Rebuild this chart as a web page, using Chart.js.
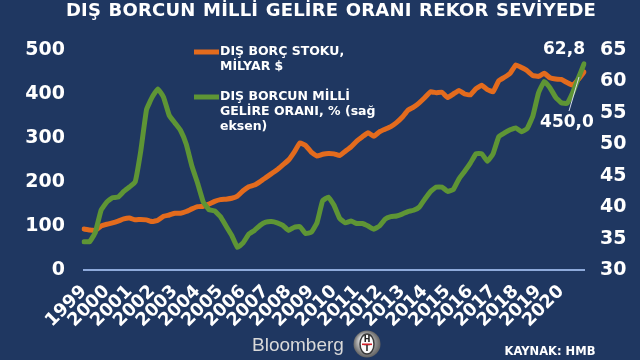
<!DOCTYPE html>
<html>
<head>
<meta charset="utf-8">
<script src="https://cdn.jsdelivr.net/npm/chart.js@4.4.1/dist/chart.umd.min.js"></script>
<style>
html,body{margin:0;padding:0;background:#1f3761;}
canvas{display:block;}
</style>
</head>
<body>
<canvas id="c" width="640" height="360"></canvas>
<script>
// ---- texts ----
const titleText = 'DIŞ BORCUN MİLLİ GELİRE ORANI REKOR SEVİYEDE';
const debtLabel = ['DIŞ BORÇ STOKU,', 'MİLYAR $'];
const ratioLabel = ['DIŞ BORCUN MİLLİ', 'GELİRE ORANI, % (sağ', 'eksen)'];
const sourceText = 'KAYNAK: HMB';
const brandText = 'Bloomberg';

// ---- tick labels (years, one label per Q1) ----
const years = ['1999','2000','2001','2002','2003','2004','2005','2006','2007','2008','2009',
               '2010','2011','2012','2013','2014','2015','2016','2017','2018','2019','2020'];
const lastQuarter = '2021-Ç1';

// ---- categories: quarters 1999-Ç1 ... 2021-Ç1 ----
const quarters = [];
years.forEach(y => { ['Ç1','Ç2','Ç3','Ç4'].forEach(q => quarters.push(y + '-' + q)); });
quarters.push(lastQuarter);

// ---- series: external debt stock, billion $ (left axis) ----
const debt = [
  93, 91, 90,100,104,107,111,116,118,114,
 115,114,110,113,122,125,129,129,133,139,
 144,145,150,156,160,161,163,168,180,189,
 193,201,210,219,228,239,250,268,289,283,
 268,259,263,265,264,260,270,280,293,303,
 312,304,314,320,326,335,347,363,370,380,
 392,405,403,404,392,400,408,400,398,412,
 420,410,405,430,438,447,466,460,453,442,
 440,447,437,434,433,426,420,433,450.0
];

// ---- series: external debt / GDP, % (right axis) ----
const ratio = [
 34.5,34.5,36.0,39.5,40.8,41.5,41.6,42.5,43.2,44.0,
 49.0,55.5,57.5,58.8,57.5,54.6,53.4,52.2,50.0,46.5,
 43.8,40.8,39.6,39.4,38.5,37.0,35.5,33.6,34.3,35.7,
 36.3,37.1,37.6,37.7,37.5,37.1,36.3,36.8,36.9,35.8,
 36.0,37.5,41.0,41.6,40.3,38.2,37.5,37.8,37.4,37.4,
 37.0,36.5,37.0,38.1,38.5,38.6,38.9,39.3,39.5,40.0,
 41.3,42.5,43.2,43.2,42.5,42.8,44.5,45.7,47.0,48.5,
 48.5,47.3,48.5,51.2,51.8,52.3,52.6,52.0,52.5,54.5,
 58.2,60.0,59.0,57.5,56.6,56.5,58.2,60.5,62.8
];

const ORANGE = '#e36b1d';
const GREEN = '#5e9535';
const FONT = '"DejaVu Sans", Verdana, sans-serif';

const fmt = v => v.toFixed(1).replace('.', ',');

const decor = {
  id: 'decor',
  afterDraw(chart) {
    const {ctx, scales} = chart;
    const x = scales.x, yL = scales.yL, yR = scales.yR;
    ctx.save();

    // title
    ctx.fillStyle = '#ffffff';
    ctx.font = 'bold 18px ' + FONT;
    ctx.textAlign = 'center';
    ctx.textBaseline = 'alphabetic';
    if ('letterSpacing' in ctx) ctx.letterSpacing = '0.2px';
    if ('wordSpacing' in ctx) ctx.wordSpacing = '1px';
    ctx.fillText(titleText, 331, 16);
    if ('letterSpacing' in ctx) ctx.letterSpacing = '0px';
    if ('wordSpacing' in ctx) ctx.wordSpacing = '0px';

    // legend (inside plot)
    const items = [
      {color: ORANGE, lines: debtLabel, y: 52},
      {color: GREEN, lines: ratioLabel, y: 97}
    ];
    ctx.font = 'bold 12.5px ' + FONT;
    ctx.textAlign = 'left';
    ctx.textBaseline = 'middle';
    items.forEach(it => {
      ctx.strokeStyle = it.color;
      ctx.lineWidth = 5;
      ctx.lineCap = 'butt';
      ctx.beginPath();
      ctx.moveTo(194, it.y);
      ctx.lineTo(219, it.y);
      ctx.stroke();
      ctx.fillStyle = '#ffffff';
      it.lines.forEach((t, k) => ctx.fillText(t, 220, it.y + k * 15));
    });

    // last value annotations
    const n = quarters.length - 1;
    const lx = x.getPixelForValue(n);
    const gy = yR.getPixelForValue(ratio[n]);
    const oy = yL.getPixelForValue(debt[n]);
    ctx.font = 'bold 17px ' + FONT;
    ctx.textAlign = 'center';
    ctx.textBaseline = 'middle';
    ctx.fillStyle = '#ffffff';
    ctx.fillText(fmt(ratio[n]), lx - 20, gy - 14);
    ctx.fillText(fmt(debt[n]), lx - 17, oy + 51);
    ctx.strokeStyle = '#d5dcea';
    ctx.lineWidth = 1;
    ctx.beginPath();
    ctx.moveTo(lx - 15, oy + 39);
    ctx.lineTo(lx - 5, oy + 5);
    ctx.stroke();

    // footer: brand
    ctx.font = '19px "Liberation Sans", Arial, sans-serif';
    ctx.textAlign = 'left';
    ctx.textBaseline = 'alphabetic';
    ctx.fillStyle = '#d9d9d9';
    ctx.fillText(brandText, 252, 351);

    // HT logo
    const cx = 367, cy = 344;
    const grad = ctx.createRadialGradient(cx - 4, cy - 5, 2, cx, cy, 14);
    grad.addColorStop(0, '#f4f4f4');
    grad.addColorStop(1, '#5e5e5e');
    ctx.fillStyle = grad;
    ctx.beginPath(); ctx.arc(cx, cy, 13.5, 0, Math.PI * 2); ctx.fill();
    ctx.fillStyle = '#fbfbfb';
    ctx.strokeStyle = '#3a3a3a';
    ctx.lineWidth = 1.5;
    ctx.beginPath(); ctx.ellipse(cx, cy, 7, 10, 0, 0, Math.PI * 2); ctx.fill(); ctx.stroke();
    ctx.fillStyle = '#222';
    ctx.font = 'bold 8px ' + FONT;
    ctx.textAlign = 'center';
    ctx.textBaseline = 'middle';
    ctx.fillText('H', cx, cy - 4.5);
    ctx.fillText('T', cx, cy + 5);
    ctx.fillStyle = '#d0202a';
    ctx.fillRect(cx - 5, cy - 0.5, 10, 1.6);

    // source
    ctx.fillStyle = '#ffffff';
    ctx.font = 'bold 11.5px ' + FONT;
    ctx.textAlign = 'center';
    ctx.textBaseline = 'middle';
    ctx.fillText(sourceText, 550, 352);

    ctx.restore();
  }
};

new Chart(document.getElementById('c'), {
  type: 'line',
  data: {
    labels: quarters,
    datasets: [
      {
        label: debtLabel.join(' '),
        data: debt,
        yAxisID: 'yL',
        borderColor: ORANGE,
        backgroundColor: ORANGE,
        borderWidth: 5,
        pointRadius: 0,
        tension: 0.1,
        borderJoinStyle: 'round',
        borderCapStyle: 'round',
        order: 1
      },
      {
        label: ratioLabel.join(' '),
        data: ratio,
        yAxisID: 'yR',
        borderColor: GREEN,
        backgroundColor: GREEN,
        borderWidth: 5,
        pointRadius: 0,
        tension: 0.1,
        borderJoinStyle: 'round',
        borderCapStyle: 'round',
        order: 0
      }
    ]
  },
  options: {
    responsive: false,
    animation: false,
    layout: {padding: {top: 50, left: 0, right: 0, bottom: 0}},
    plugins: {
      legend: {display: false},
      tooltip: {enabled: false},
      title: {display: false}
    },
    scales: {
      x: {
        type: 'category',
        offset: false,
        grid: {display: false, drawTicks: false},
        border: {display: true, color: '#8eaadb', width: 2},
        ticks: {
          autoSkip: false,
          minRotation: 45,
          maxRotation: 45,
          padding: 11,
          color: '#ffffff',
          font: {family: FONT, size: 18, weight: 'bold'},
          callback: (v, i) => (i % 4 === 0 && years[i / 4]) ? years[i / 4] : ''
        },
        afterFit: s => { s.height = 90; }
      },
      yL: {
        position: 'left',
        min: 0, max: 500,
        grid: {display: false, drawTicks: false},
        border: {display: false},
        ticks: {stepSize: 100, padding: 19, color: '#ffffff', font: {family: FONT, size: 19, weight: 'bold'}},
        afterFit: s => { s.width = 84; }
      },
      yR: {
        position: 'right',
        min: 30, max: 65,
        grid: {display: false, drawTicks: false},
        border: {display: false},
        ticks: {stepSize: 5, padding: 16, color: '#ffffff', font: {family: FONT, size: 19, weight: 'bold'}},
        afterFit: s => { s.width = 56; }
      }
    }
  },
  plugins: [decor]
});
</script>
</body>
</html>
